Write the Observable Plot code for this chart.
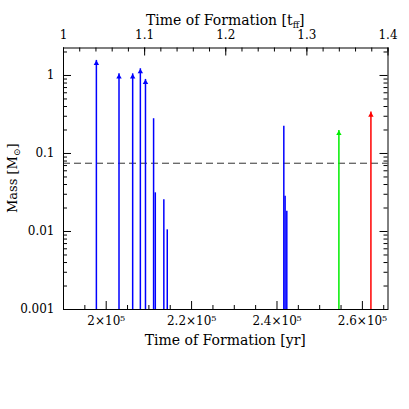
<!DOCTYPE html>
<html><head><meta charset="utf-8">
<script src="https://cdn.jsdelivr.net/npm/d3@7"></script>
<script src="https://cdn.jsdelivr.net/npm/@observablehq/plot@0.6"></script>
<style>body{margin:0;background:#fff}#chart{position:absolute;left:0;top:0}</style>
</head><body><div id="chart"></div>
<script>
// ---- data ----
const formationTimes = [1.977e5, 2.030e5, 2.062e5, 2.080e5, 2.092e5, 2.111e5, 2.115e5, 2.135e5, 2.143e5, 2.416e5, 2.419e5, 2.423e5, 2.545e5, 2.620e5];
const masses = [1.56, 1.05, 1.05, 1.22, 0.89, 0.279, 0.0313, 0.0255, 0.0105, 0.224, 0.0284, 0.0182, 0.197, 0.339];
const colors = ["blue","blue","blue","blue","blue","blue","blue","blue","blue","blue","blue","blue","#00ee00","red"];
const stillAccreting = [true, true, true, true, true, false, false, false, false, false, false, false, true, true];
const TFF = 1.9e5; // years per free-fall time
const xTicksYr = [2e5, 2.2e5, 2.4e5, 2.6e5];
const xTickLabels = ["2×10⁵", "2.2×10⁵", "2.4×10⁵", "2.6×10⁵"];
const tffTicks = [1, 1.1, 1.2, 1.3, 1.4];
const tffTickLabels = ["1", "1.1", "1.2", "1.3", "1.4"];
const yTicks = [0.001, 0.01, 0.1, 1];
const yTickLabels = ["0.001", "0.01", "0.1", "1"];
const hydrogenBurningLimit = [0.075];

// ---- layout ----
const W = 409, H = 409, mL = 63, mR = 21.5, mT = 47.5, mB = 100;
const innerW = W - mL - mR, innerH = H - mT - mB;
const xDomain = [1.9e5, 2.66e5];
const yDomain = [0.001, 2.25];

const stars = formationTimes.map((t, i) => ({t, m: masses[i], c: colors[i], arrow: stillAccreting[i]}));

const minorY = [];
for (let e = -3; e <= 0; e++) for (let k = 2; k <= 9; k++) { const v = k * 10 ** e; if (v < yDomain[1]) minorY.push(v); }
const minorX = d3.range(38, 54).map(k => k * 5e3).filter(v => !xTicksYr.includes(v));
const tffMajorYr = tffTicks.map(v => v * TFF);
const tffMinorYr = d3.range(50, 71).map(k => k * 0.02 * TFF);

const MAJ = 8, MIN = 4;
const tickStyle = {stroke: "black", strokeWidth: 1};

const plot = Plot.plot({
  width: W, height: H,
  marginLeft: mL, marginRight: mR, marginTop: mT, marginBottom: mB,
  style: {fontFamily: "DejaVu Serif", fontSize: "12px", color: "black", background: "white"},
  x: {domain: xDomain},
  y: {type: "log", domain: yDomain},
  marks: [
    Plot.ruleY(hydrogenBurningLimit, {y: d => d, stroke: "#333", strokeWidth: 1, strokeDasharray: "7,4"}),
    Plot.ruleX(stars, {x: "t", y1: yDomain[0], y2: "m", stroke: "c", strokeWidth: 1.5}),
    Plot.dot(stars.filter(d => d.arrow), {x: "t", y: "m", symbol: "triangle", r: 2, fill: "c", stroke: null, dy: 3}),
    // bottom ticks (yr)
    Plot.tickX(xTicksYr, {x: d => d, insetTop: innerH - MAJ, ...tickStyle}),
    Plot.tickX(minorX, {x: d => d, insetTop: innerH - MIN, ...tickStyle}),
    // top ticks (t_ff)
    Plot.tickX(tffMajorYr, {x: d => d, insetBottom: innerH - MAJ, ...tickStyle}),
    Plot.tickX(tffMinorYr, {x: d => d, insetBottom: innerH - MIN, ...tickStyle}),
    // left / right ticks
    Plot.tickY(yTicks, {y: d => d, insetRight: innerW - MAJ, ...tickStyle}),
    Plot.tickY(minorY, {y: d => d, insetRight: innerW - MIN, ...tickStyle}),
    Plot.tickY(yTicks, {y: d => d, insetLeft: innerW - MAJ, ...tickStyle}),
    Plot.tickY(minorY, {y: d => d, insetLeft: innerW - MIN, ...tickStyle}),
    Plot.axisX(xTicksYr, {anchor: "bottom", tickSize: 0, tickPadding: 7, tickFormat: d => xTickLabels[xTicksYr.indexOf(d)], label: null}),
    Plot.axisX(tffMajorYr, {anchor: "top", tickSize: 0, tickPadding: 9, tickFormat: d => tffTickLabels[tffMajorYr.indexOf(d)], label: null}),
    Plot.axisY(yTicks, {anchor: "left", tickSize: 0, tickPadding: 9, tickFormat: d => yTickLabels[yTicks.indexOf(d)], label: null}),
    Plot.frame({stroke: "black", strokeWidth: 1})
  ]
});

const svg = d3.select(plot);
const ff = "DejaVu Serif";
// bottom title
svg.append("text").attr("x", mL + innerW / 2).attr("y", 345).attr("text-anchor", "middle")
  .attr("font-family", ff).attr("font-size", 14).text("Time of Formation [yr]");
// top title
const tt = svg.append("text").attr("x", mL + innerW / 2).attr("y", 25).attr("text-anchor", "middle")
  .attr("font-family", ff).attr("font-size", 14);
tt.append("tspan").text("Time of Formation [t");
tt.append("tspan").attr("font-size", 9).attr("dy", 3).text("ff");
tt.append("tspan").attr("dy", -3).text("]");
// y title
const yt = svg.append("text").attr("transform", `translate(17,${mT + innerH / 2}) rotate(-90)`).attr("text-anchor", "middle")
  .attr("font-family", ff).attr("font-size", 13);
yt.append("tspan").text("Mass [M");
yt.append("tspan").attr("font-size", 9).attr("dy", 3).text("⊙");
yt.append("tspan").attr("dy", -3).text("]");

document.getElementById("chart").appendChild(plot);
</script>
</body></html>
